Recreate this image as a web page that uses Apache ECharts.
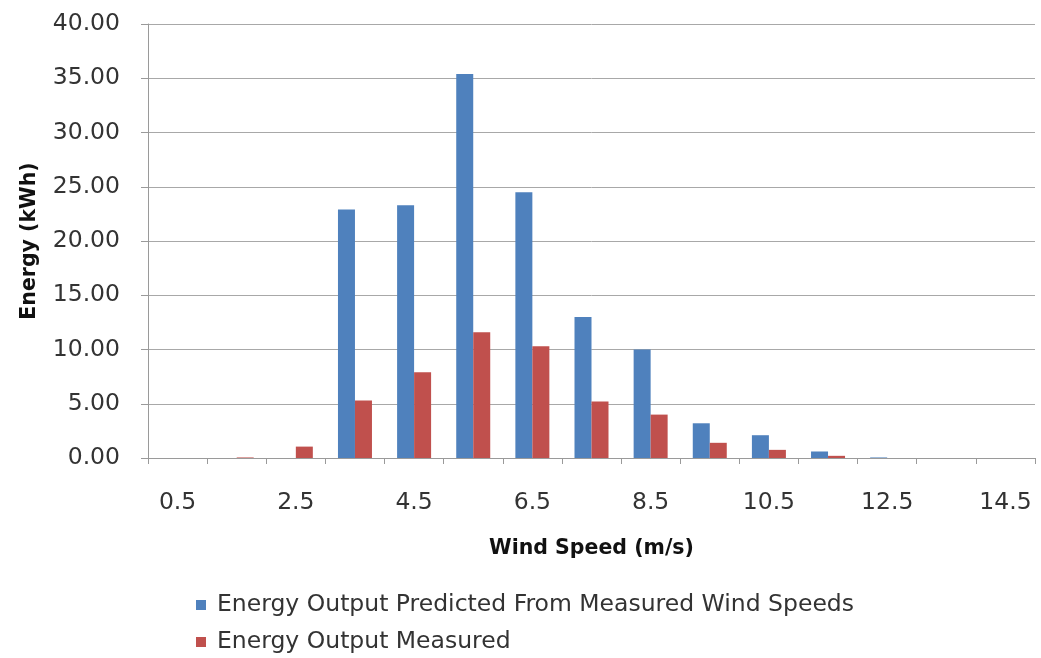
<!DOCTYPE html>
<html><head><meta charset="utf-8">
<script src="https://cdn.jsdelivr.net/npm/echarts@6/dist/echarts.min.js"></script>
<style>html,body{margin:0;padding:0;background:#fff}#c{width:1041px;height:658px}</style>
</head><body><div id="c"></div>
<script>
const categories = ['0.5','1.5','2.5','3.5','4.5','5.5','6.5','7.5','8.5','9.5','10.5','11.5','12.5','13.5','14.5'];
const predicted = [0, 0, 0, 22.9, 23.3, 35.4, 24.5, 13.0, 10.0, 3.2, 2.1, 0.6, 0.05, 0, 0];
const measured = [0, 0.05, 1.05, 5.3, 7.9, 11.6, 10.3, 5.2, 4.0, 1.4, 0.75, 0.2, 0, 0, 0];
const yTicks = {min: 0, max: 40, interval: 5};
const seriesNames = ['Energy Output Predicted From Measured Wind Speeds', 'Energy Output Measured'];

const FONT = 'DejaVu Sans';
const FS = 23.5;
const NFS = 20.5;
const chart = echarts.init(document.getElementById('c'), null, {renderer: 'canvas'});
chart.setOption({
  animation: false,
  textStyle: {fontFamily: FONT},
  grid: {left: 148, right: 6, top: 24, bottom: 200, containLabel: false},
  legend: {
    orient: 'vertical', left: 196, top: 593, padding: 0,
    itemWidth: 10, itemHeight: 10, itemGap: 13,
    icon: 'rect',
    textStyle: {fontFamily: FONT, fontSize: FS, color: '#333', padding: [0, 0, 0, 6]},
    data: seriesNames
  },
  xAxis: {
    type: 'category', data: categories,
    name: 'Wind Speed (m/s)', nameLocation: 'middle', nameGap: 80,
    nameTextStyle: {fontFamily: FONT, fontSize: NFS, fontWeight: 'bold', color: '#111'},
    axisLine: {lineStyle: {color: '#9a9a9a'}},
    axisTick: {show: true, interval: 0, length: 6, lineStyle: {color: '#9a9a9a'}},
    axisLabel: {interval: 1, margin: 33, fontSize: FS, color: '#333', fontFamily: FONT},
    splitLine: {show: false}
  },
  yAxis: {
    type: 'value', min: yTicks.min, max: yTicks.max, interval: yTicks.interval,
    name: 'Energy (kWh)', nameLocation: 'middle', nameGap: 108, nameRotate: 90,
    nameTextStyle: {fontFamily: FONT, fontSize: NFS, fontWeight: 'bold', color: '#111'},
    axisLine: {show: true, lineStyle: {color: '#9a9a9a'}},
    axisTick: {show: true, length: 7, lineStyle: {color: '#9a9a9a'}},
    axisLabel: {formatter: v => v.toFixed(2), margin: 28, fontSize: FS, color: '#333', fontFamily: FONT},
    splitLine: {lineStyle: {color: '#a8a8a8'}}
  },
  series: [
    {name: seriesNames[0], type: 'bar', data: predicted, barWidth: 17, barGap: '0%', itemStyle: {color: '#4F81BD'}},
    {name: seriesNames[1], type: 'bar', data: measured, barWidth: 17, barGap: '0%', itemStyle: {color: '#C0504D'}}
  ]
});
</script></body></html>
